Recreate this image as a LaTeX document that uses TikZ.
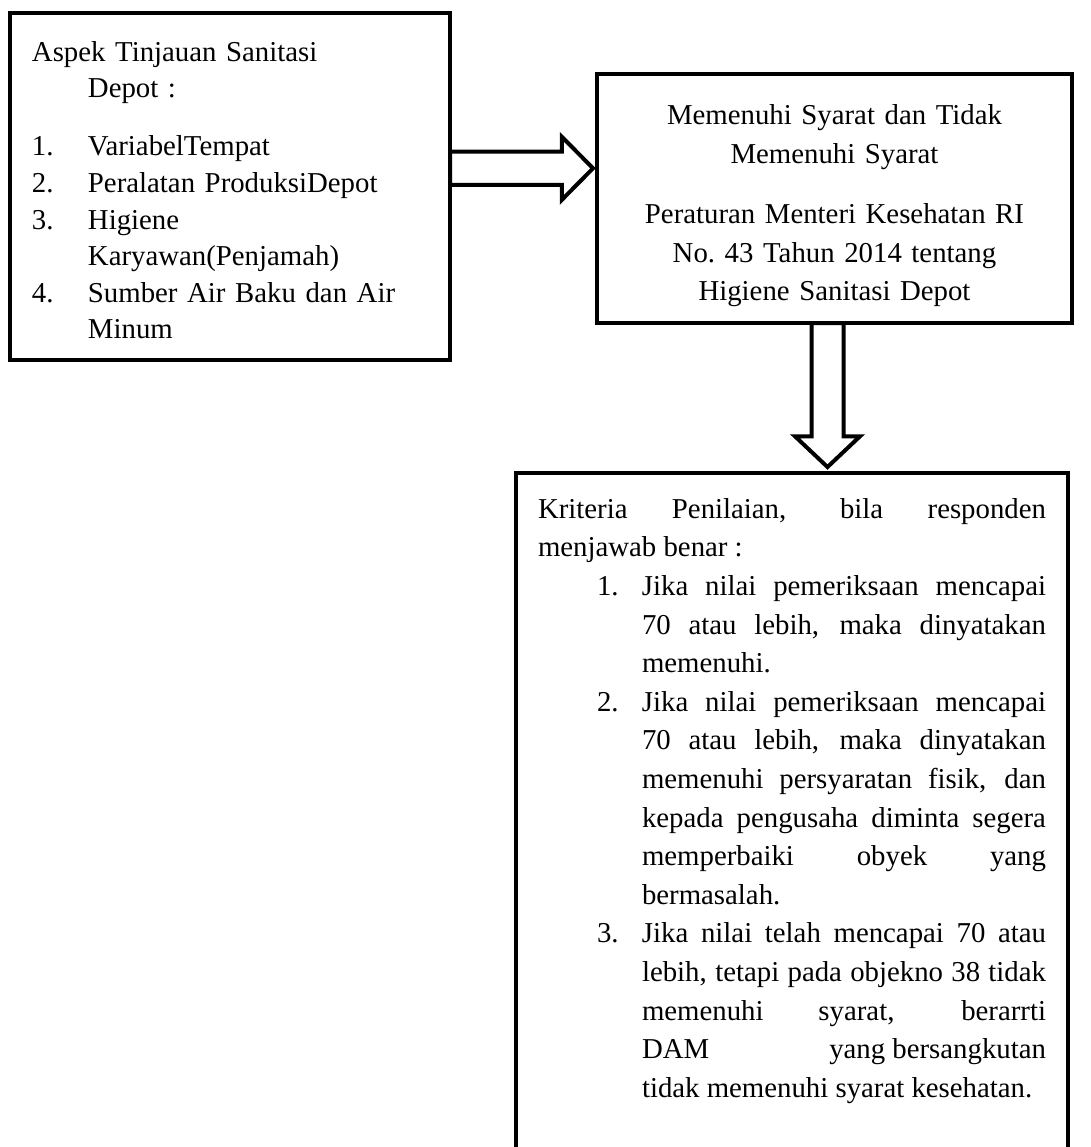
\documentclass[tikz,border=0pt]{standalone}
\usepackage{fontspec}
\setmainfont{Liberation Serif}
\usetikzlibrary{positioning}
\newcommand{\listrow}[3]{\par\hangindent=#1\hangafter=1 \noindent\hspace*{\dimexpr#1-#2\relax}\makebox[#2][l]{#3}}
\tikzset{
  textbox/.style={draw,line width=2pt,outer sep=0pt,inner xsep=11pt,
    font=\fontsize{14.4pt}{19.3pt}\selectfont},
  aspect/.style={textbox,text width=198pt,minimum height=173.5pt,align=left,
    font=\fontsize{14.4pt}{18.3pt}\selectfont},
  standard/.style={textbox,text width=215.5pt,minimum height=124.5pt,align=center},
  criteria/.style={outer sep=0pt,inner xsep=11pt,inner ysep=12.7pt,text width=254pt,
    align=justify,font=\fontsize{14.4pt}{19.3pt}\selectfont},
  openframe/.style={line width=2pt},
  hollowarrow/.style={draw,line width=2pt,fill=white,line join=miter}
}

\begin{document}
\begin{tikzpicture}
  \useasboundingbox (0,0) rectangle (545.5pt,-573.5pt);
  \coordinate (pagebottom) at (0,-580pt);

  \node[aspect,anchor=north west] (aspek) at (5pt,-6.5pt)
    {\noindent\rule{0pt}{13.8pt}Aspek Tinjauan Sanitasi\hangindent=28pt\hangafter=1 \newline Depot :\par\vspace{10.7pt}%
     \listrow{28pt}{28pt}{1.}VariabelTempat
     \listrow{28pt}{28pt}{2.}Peralatan ProduksiDepot
     \listrow{28pt}{28pt}{3.}Higiene\newline Karyawan(Penjamah)
     \listrow{28pt}{28pt}{4.}Sumber Air Baku dan Air\newline Minum\par};
  \node[standard,below right=30.5pt and 73.5pt of aspek.north east] (memenuhi)
    {\rule{0pt}{17.3pt}Memenuhi Syarat dan Tidak\\Memenuhi Syarat\\[11pt]Peraturan Menteri Kesehatan RI\\No.\ 43 Tahun 2014 tentang\\Higiene Sanitasi Depot};
  \node[criteria,below=75pt of memenuhi.south east,anchor=north east,xshift=-2pt] (kriteria)
    {\noindent Kriteria Penilaian, bila responden\linebreak menjawab benar :
     \listrow{52pt}{22.5pt}{1.}Jika nilai pemeriksaan mencapai\linebreak 70 atau lebih, maka dinyatakan\linebreak memenuhi.
     \listrow{52pt}{22.5pt}{2.}Jika nilai pemeriksaan mencapai\linebreak 70 atau lebih, maka dinyatakan\linebreak memenuhi persyaratan fisik, dan\linebreak kepada pengusaha diminta segera\linebreak memperbaiki obyek yang\linebreak bermasalah.
     \listrow{52pt}{22.5pt}{3.}Jika nilai telah mencapai 70 atau\linebreak lebih, tetapi pada objekno 38 tidak\linebreak memenuhi syarat, berarrti\linebreak DAM \mbox{yang bersangkutan}\linebreak tidak memenuhi syarat kesehatan.\par};
  % open frame, runs past the page bottom
  \draw[openframe] (kriteria.north west |- pagebottom) -- (kriteria.north west)
    -- (kriteria.north east) -- (kriteria.north east |- pagebottom);

  % block arrows
  \path ([yshift=9.1pt]aspek.east) coordinate (a1tail);
  \path (memenuhi.west |- a1tail) ++(-2pt,0) coordinate (a1tip);
  \draw[hollowarrow] ([yshift=8.3pt]a1tail) -- ([shift={(-15.6pt,8.3pt)}]a1tip)
    -- ([shift={(-15.6pt,15.8pt)}]a1tip) -- (a1tip) -- ([shift={(-15.6pt,-15.8pt)}]a1tip)
    -- ([shift={(-15.6pt,-8.3pt)}]a1tip) -- ([yshift=-8.3pt]a1tail) -- cycle;
  \path (memenuhi.south) ++(-3.5pt,0) coordinate (a2tail);
  \path (a2tail |- kriteria.north) ++(0,3pt) coordinate (a2tip);
  \draw[hollowarrow] ([xshift=-8pt]a2tail) -- ([shift={(-8pt,15.3pt)}]a2tip)
    -- ([shift={(-16.2pt,15.3pt)}]a2tip) -- (a2tip) -- ([shift={(16.2pt,15.3pt)}]a2tip)
    -- ([shift={(8pt,15.3pt)}]a2tip) -- ([xshift=8pt]a2tail) -- cycle;
\end{tikzpicture}
\end{document}
